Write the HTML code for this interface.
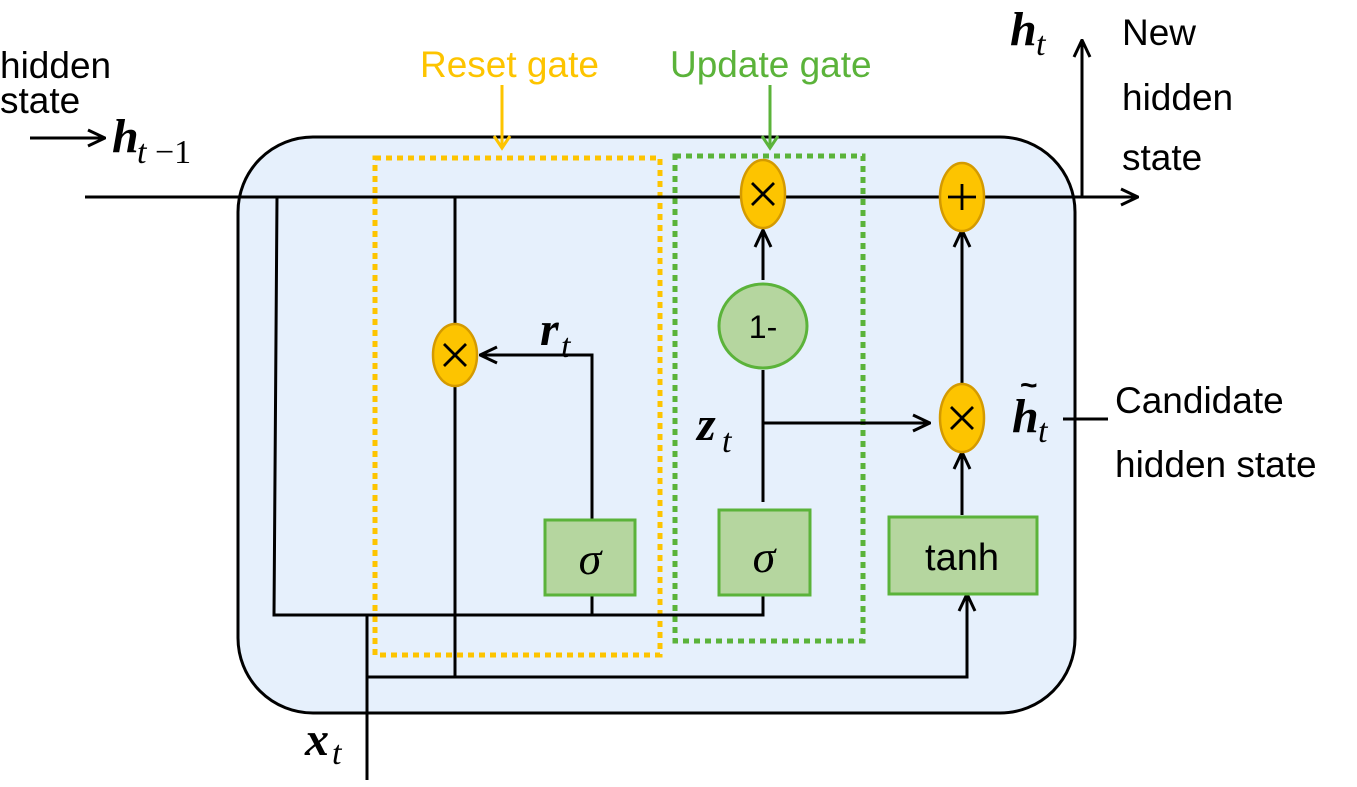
<!DOCTYPE html>
<html><head><style>body{margin:0;background:#fff}svg{display:block}</style></head><body>
<svg width="1357" height="787" viewBox="0 0 1357 787" xmlns="http://www.w3.org/2000/svg" font-family="Liberation Sans, sans-serif">
<defs>
<marker id="b" viewBox="0 0 20 20" refX="19" refY="10" markerWidth="20" markerHeight="20" markerUnits="userSpaceOnUse" orient="auto"><path d="M2,2 L19,10 L2,18" fill="none" stroke="#000" stroke-width="3"/></marker>
</defs>
<rect x="238" y="137" width="837" height="576" rx="75" fill="#e6f0fc" stroke="#000" stroke-width="3"/>
<rect x="375" y="158" width="285" height="497" fill="none" stroke="#fdc400" stroke-width="5" stroke-dasharray="6,5"/>
<rect x="675" y="156" width="188" height="485" fill="none" stroke="#5bb33a" stroke-width="5" stroke-dasharray="6,5"/>
<g stroke="#000" stroke-width="3" fill="none">
<line x1="85" y1="197" x2="1138" y2="197" marker-end="url(#b)"/>
<line x1="1082" y1="197" x2="1082" y2="40" marker-end="url(#b)"/>
<polyline points="277,197 274,615 763,615 763,577"/>
<line x1="367" y1="780" x2="367" y2="615"/>
<polyline points="367,677 967,677 967,594" marker-end="url(#b)"/>
<line x1="455" y1="197" x2="455" y2="677"/>
<polyline points="592,615 592,355 480,355" marker-end="url(#b)"/>
<line x1="763" y1="502" x2="763" y2="370"/>
<line x1="763" y1="280" x2="763" y2="230" marker-end="url(#b)"/>
<line x1="763" y1="423" x2="930" y2="423" marker-end="url(#b)"/>
<line x1="962" y1="515" x2="962" y2="452" marker-end="url(#b)"/>
<line x1="962" y1="390" x2="962" y2="230" marker-end="url(#b)"/>
<line x1="1063" y1="419" x2="1108" y2="419"/>
<line x1="30" y1="138" x2="105" y2="138" marker-end="url(#b)"/>
</g>
<line x1="502" y1="85" x2="502" y2="148" stroke="#fdc400" stroke-width="3"/>
<path d="M494,136 L502,148 L510,136" fill="none" stroke="#fdc400" stroke-width="3"/>
<line x1="770" y1="85" x2="770" y2="148" stroke="#5bb33a" stroke-width="3"/>
<path d="M762,136 L770,148 L778,136" fill="none" stroke="#5bb33a" stroke-width="3"/>
<g fill="#fdc400" stroke="#d49a00" stroke-width="2.5">
<ellipse cx="455" cy="355" rx="22" ry="31"/>
<ellipse cx="763" cy="194" rx="22" ry="34"/>
<ellipse cx="962" cy="197" rx="22" ry="34"/>
<ellipse cx="962" cy="418" rx="22" ry="34"/>
</g>
<g stroke="#000" stroke-width="2.8">
<path d="M444,344 L466,366 M466,344 L444,366"/>
<path d="M752,183 L774,205 M774,183 L752,205"/>
<path d="M951,407 L973,429 M973,407 L951,429"/>
<path d="M962,184 L962,210 M948,197 L976,197"/>
</g>
<ellipse cx="763" cy="326" rx="44" ry="42" fill="#b5d69f" stroke="#5bb33a" stroke-width="3"/>
<text x="763" y="338" font-size="32" text-anchor="middle">1-</text>
<g fill="#b5d69f" stroke="#5bb33a" stroke-width="3">
<rect x="545" y="520" width="90" height="75"/>
<rect x="719" y="510" width="91" height="85"/>
<rect x="889" y="517" width="148" height="77"/>
</g>
<g font-family="Liberation Serif, serif" font-style="italic" font-size="46" text-anchor="middle">
<text x="590" y="574">σ</text><text x="764" y="572">σ</text>
</g>
<text x="962" y="570" font-size="38" text-anchor="middle">tanh</text>
<text x="420" y="77" font-size="37" fill="#fdc400">Reset gate</text>
<text x="670" y="77" font-size="37" fill="#5bb33a">Update gate</text>
<g font-size="37">
<text x="0" y="78">hidden</text>
<text x="0" y="113">state</text>
<text x="1122" y="45">New</text>
<text x="1122" y="110">hidden</text>
<text x="1122" y="170">state</text>
<text x="1115" y="413">Candidate</text>
<text x="1115" y="477">hidden state</text>
</g>
<g font-family="Liberation Serif, serif" font-style="italic" font-weight="bold" font-size="48">
<text x="112" y="152">h</text><text x="1010" y="45">h</text><text x="1012" y="432">h</text>
<text x="540" y="345">r</text><text x="697" y="440">z</text><text x="305" y="755">x</text>
</g>
<g font-family="Liberation Serif, serif" font-style="italic" font-size="34">
<text x="137" y="163">t</text><text x="155" y="163" font-style="normal">−1</text>
<text x="1036" y="55">t</text><text x="1038" y="442">t</text>
<text x="561" y="357">t</text><text x="722" y="452">t</text><text x="332" y="764">t</text>
</g>
<text x="1020" y="395" font-size="30" font-weight="bold">~</text>
</svg>
</body></html>
